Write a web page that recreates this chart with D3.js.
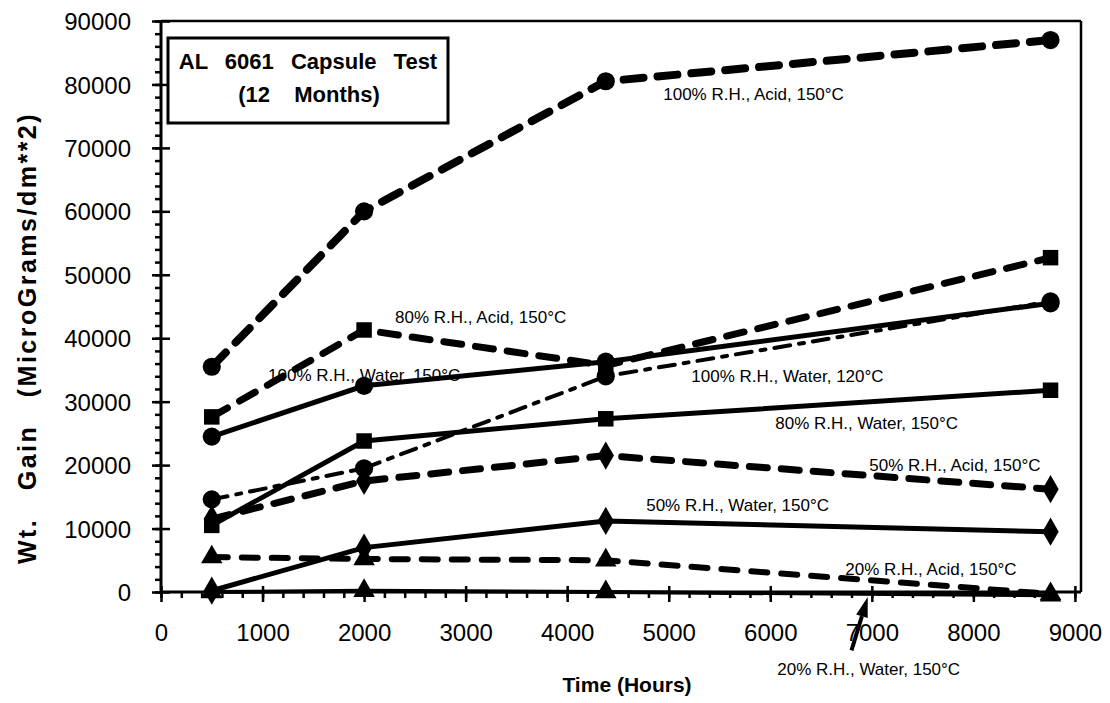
<!DOCTYPE html>
<html>
<head>
<meta charset="utf-8">
<script src="https://cdn.jsdelivr.net/npm/d3@7"></script>
<style>
  body { margin: 0; background: #fff; }
  svg { display: block; }
</style>
</head>
<body>
<div id="chart"></div>
<script>
// Weight gain of AL 6061 capsules vs time
var hours = [500, 2000, 4380, 8760];

var acid100 = [35500, 60000, 80500, 87000];
var acid80 = [27600, 41300, 35700, 52700];
var acid50 = [11500, 17500, 21500, 16200];
var acid20 = [5500, 5200, 5000, -300];
var water100 = [24500, 32500, 36300, 45500];
var water100at120 = [14600, 19500, 34000, 45800];
var water80 = [10500, 23800, 27300, 31800];
var water50 = [200, 7000, 11200, 9500];
var water20 = [0, 200, 0, -500];

var xTicks = [0, 1000, 2000, 3000, 4000, 5000, 6000, 7000, 8000, 9000];
var yTicks = [0, 10000, 20000, 30000, 40000, 50000, 60000, 70000, 80000, 90000];

var w = 1110;
var h = 703;
var pLeft = 161, pRight = 1081, pTop = 21, pBottom = 592;

var x = d3.scaleLinear().domain([0, 9060]).range([pLeft, pRight]);
var y = d3.scaleLinear().domain([0, 90000]).range([pBottom, pTop]);

var svg = d3.select("#chart")
  .append("svg")
  .attr("width", w)
  .attr("height", h)
  .style("font-family", "'Liberation Sans', Arial, sans-serif");

// series: values, style, marker
var series = [
  { values: acid100, dash: "20 14", width: 8, marker: "circle" },
  { values: acid80, dash: "18 14", width: 7, marker: "square" },
  { values: acid50, dash: "18 14", width: 7, marker: "diamond" },
  { values: acid20, dash: "16 14", width: 6, marker: "triangle" },
  { values: water100, dash: null, width: 5, marker: "circle" },
  { values: water100at120, dash: "16 9 5 9", width: 4, marker: "circle" },
  { values: water80, dash: null, width: 5, marker: "square" },
  { values: water50, dash: null, width: 5, marker: "diamond" },
  { values: water20, dash: null, width: 4, marker: "triangle" }
];

var line = d3.line()
  .x(function(d) { return x(d[0]); })
  .y(function(d) { return y(d[1]); });

var symbols = {
  circle: d3.symbol().type(d3.symbolCircle).size(260),
  square: d3.symbol().type(d3.symbolSquare).size(240),
  diamond: d3.symbol().type(d3.symbolDiamond).size(230),
  triangle: d3.symbol().type(d3.symbolTriangle).size(200)
};

series.forEach(function(s) {
  var pts = hours.map(function(t, i) { return [t, s.values[i]]; });
  svg.append("path")
    .attr("d", line(pts))
    .attr("fill", "none")
    .attr("stroke", "#000")
    .attr("stroke-width", s.width)
    .attr("stroke-linecap", s.dash ? "round" : "butt")
    .attr("stroke-dasharray", s.dash);
  svg.selectAll(null)
    .data(pts)
    .enter()
    .append("path")
    .attr("d", symbols[s.marker])
    .attr("transform", function(d) { return "translate(" + x(d[0]) + "," + y(d[1]) + ")"; })
    .attr("fill", "#000");
});

// axes
var yAxis = d3.axisLeft(y).tickValues(yTicks).tickSize(8).tickFormat(d3.format("d"));
var yMinor = d3.axisLeft(y).tickValues(d3.range(0, 90001, 2000)).tickSize(6).tickFormat("");
var xAxis = d3.axisBottom(x).tickValues(xTicks).tickSize(9).tickFormat(d3.format("d"));
var xMinor = d3.axisBottom(x).tickValues(d3.range(0, 9001, 200)).tickSize(6).tickFormat("");

var gy = svg.append("g").attr("transform", "translate(" + pLeft + ",0)").call(yMinor);
var gy2 = svg.append("g").attr("transform", "translate(" + pLeft + ",0)").call(yAxis);
var gx = svg.append("g").attr("transform", "translate(0," + pBottom + ")").call(xMinor);
var gx2 = svg.append("g").attr("transform", "translate(0," + pBottom + ")").call(xAxis);

[gy, gy2, gx, gx2].forEach(function(g) {
  g.select(".domain").remove();
  g.selectAll(".tick line").attr("stroke", "#000").attr("stroke-width", 2.5);
});
// major ticks cross the axis
gy2.selectAll(".tick line").attr("x2", -9).attr("x1", 9);
gx2.selectAll(".tick line").attr("y1", -6).attr("y2", 10);

gy2.selectAll(".tick text")
  .attr("x", -30)
  .attr("dy", "0.36em")
  .style("font-size", "24px")
  .style("font-family", "'Liberation Sans', Arial, sans-serif")
  .attr("fill", "#000");
gx2.selectAll(".tick text")
  .attr("y", 32)
  .attr("dy", "0.71em")
  .style("font-size", "24px")
  .style("font-family", "'Liberation Sans', Arial, sans-serif")
  .attr("fill", "#000");

// frame
svg.append("line").attr("x1", pLeft).attr("x2", pLeft).attr("y1", pTop).attr("y2", pBottom + 2)
  .attr("stroke", "#000").attr("stroke-width", 3);
svg.append("line").attr("x1", pLeft).attr("x2", pRight).attr("y1", pBottom).attr("y2", pBottom)
  .attr("stroke", "#000").attr("stroke-width", 3);
svg.append("line").attr("x1", pLeft).attr("x2", pRight).attr("y1", pTop).attr("y2", pTop)
  .attr("stroke", "#000").attr("stroke-width", 2.5);
svg.append("line").attr("x1", pRight).attr("x2", pRight).attr("y1", pTop).attr("y2", pBottom)
  .attr("stroke", "#000").attr("stroke-width", 2.5);

// series labels (hours, gain of text start)
var labels = [
  ["100% R.H., Acid, 150°C", 4946, 77600],
  ["80% R.H., Acid, 150°C", 2305, 42400],
  ["100% R.H., Water, 150°C", 1054, 33300],
  ["100% R.H., Water, 120°C", 5222, 33100],
  ["80% R.H., Water, 150°C", 6049, 25700],
  ["50% R.H., Acid, 150°C", 6975, 19100],
  ["50% R.H., Water, 150°C", 4778, 12800],
  ["20% R.H., Acid, 150°C", 6739, 2700],
  ["20% R.H., Water, 150°C", 6069, -13100]
];

svg.selectAll(".lab")
  .data(labels)
  .enter()
  .append("text")
  .attr("class", "lab")
  .attr("x", function(d) { return x(d[1]); })
  .attr("y", function(d) { return y(d[2]); })
  .style("font-size", "17px")
  .text(function(d) { return d[0]; });

// arrow to the 20% water line
var ax0 = x(6800), ay0 = y(-9200), ax1 = x(6960), ay1 = y(-800);
var ang = Math.atan2(ay1 - ay0, ax1 - ax0);
var hl = 20, hw = 6;
var bx = ax1 - hl * Math.cos(ang), by = ay1 - hl * Math.sin(ang);
svg.append("line")
  .attr("x1", ax0).attr("y1", ay0).attr("x2", bx).attr("y2", by)
  .attr("stroke", "#000").attr("stroke-width", 4);
svg.append("path")
  .attr("d", "M" + ax1 + "," + ay1 +
    "L" + (bx + hw * Math.sin(ang)) + "," + (by - hw * Math.cos(ang)) +
    "L" + (bx - hw * Math.sin(ang)) + "," + (by + hw * Math.cos(ang)) + "Z")
  .attr("fill", "#000");

// title box
svg.append("rect")
  .attr("x", 168).attr("y", 38).attr("width", 280).attr("height", 85)
  .attr("fill", "#fff").attr("stroke", "#000").attr("stroke-width", 3);
svg.append("text")
  .attr("x", 308).attr("y", 69)
  .attr("text-anchor", "middle")
  .style("word-spacing", "11px")
  .style("font-size", "22px").style("font-weight", "bold")
  .text("AL 6061 Capsule Test");
svg.append("text")
  .attr("x", 309).attr("y", 102)
  .attr("text-anchor", "middle")
  .style("word-spacing", "18px")
  .style("font-size", "22px").style("font-weight", "bold")
  .text("(12 Months)");

// axis titles
svg.append("text")
  .attr("x", 627).attr("y", 692)
  .attr("text-anchor", "middle")
  .style("font-size", "21px").style("font-weight", "bold")
  .text("Time (Hours)");
svg.append("text")
  .attr("transform", "translate(36,338) rotate(-90)")
  .attr("text-anchor", "middle")
  .style("word-spacing", "18px")
  .style("letter-spacing", "2.5px")
  .style("font-size", "25px").style("font-weight", "bold")
  .text("Wt. Gain (MicroGrams/dm**2)");
</script>
</body>
</html>
